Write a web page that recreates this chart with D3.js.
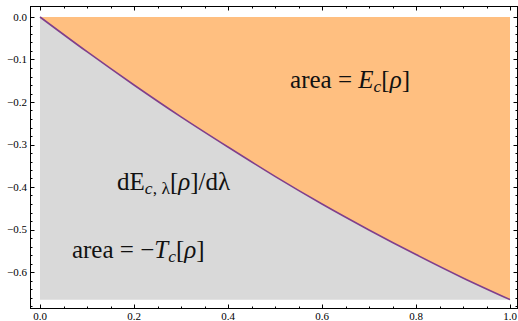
<!DOCTYPE html>
<html>
<head>
<meta charset="utf-8">
<script src="https://cdn.jsdelivr.net/npm/d3@7"></script>
<style>
  body { margin: 0; background: #fff; }
</style>
</head>
<body>
<div id="chart"></div>
<script>
// lambda values and dE_c,lambda/dlambda
const lambdas = [0, 0.1, 0.2, 0.3, 0.4, 0.5, 0.6, 0.7, 0.8, 0.9, 1.0];
const dEdl = [0, -0.0817, -0.160, -0.235, -0.306, -0.375, -0.440, -0.501, -0.559, -0.614, -0.665];
const xTicks = [0, 0.2, 0.4, 0.6, 0.8, 1.0];
const yTicks = [0, -0.1, -0.2, -0.3, -0.4, -0.5, -0.6];

const width = 518, height = 321;
const frame = {left: 30.5, right: 517.5, top: 6.5, bottom: 308.5};
const serif = '"Liberation Serif", "Times New Roman", serif';

const svg = d3.select("#chart").append("svg")
    .attr("width", width)
    .attr("height", height);

const x = d3.scaleLinear().domain([0, 1]).range([40, 510]);
const y = d3.scaleLinear().domain([0, -0.6]).range([17, 272]);
const yMin = d3.min(dEdl);
const pts = lambdas.map((l, i) => [l, dEdl[i]]);

// orange area between curve and zero
svg.append("path")
    .datum(pts)
    .attr("fill", "#ffbf80")
    .attr("d", d3.area().x(d => x(d[0])).y0(y(0)).y1(d => y(d[1])).curve(d3.curveMonotoneX));

// gray area below curve
svg.append("path")
    .datum(pts)
    .attr("fill", "#d9d9d9")
    .attr("d", d3.area().x(d => x(d[0])).y0(y(yMin)).y1(d => y(d[1])).curve(d3.curveMonotoneX));

// the curve itself
svg.append("path")
    .datum(pts)
    .attr("fill", "none")
    .attr("stroke", "#7f3f8c")
    .attr("stroke-width", 1.6)
    .attr("d", d3.line().x(d => x(d[0])).y(d => y(d[1])).curve(d3.curveMonotoneX));

// frame with inward ticks
const g = svg.append("g").attr("stroke", "#000").attr("stroke-width", 1);
g.append("rect")
    .attr("x", frame.left).attr("y", frame.top)
    .attr("width", frame.right - frame.left).attr("height", frame.bottom - frame.top)
    .attr("fill", "none");

const xMinor = d3.range(0, 1.0001, 0.05);
const yMinor = d3.range(0, -0.6801, -0.02);
const isMajorX = v => xTicks.some(t => Math.abs(t - v) < 1e-6);
const isMajorY = v => yTicks.some(t => Math.abs(t - v) < 1e-6);

xMinor.forEach(v => {
  const len = isMajorX(v) ? 4 : 2;
  const px = Math.round(x(v)) + 0.5;
  g.append("line").attr("x1", px).attr("x2", px).attr("y1", frame.bottom).attr("y2", frame.bottom - len);
  g.append("line").attr("x1", px).attr("x2", px).attr("y1", frame.top).attr("y2", frame.top + len);
});
yMinor.forEach(v => {
  const len = isMajorY(v) ? 4 : 2;
  const py = Math.round(y(v)) + 0.5;
  g.append("line").attr("y1", py).attr("y2", py).attr("x1", frame.left).attr("x2", frame.left + len);
  g.append("line").attr("y1", py).attr("y2", py).attr("x1", frame.right).attr("x2", frame.right - len);
});

// tick labels
svg.append("g").selectAll("text")
    .data(xTicks).join("text")
    .attr("x", d => x(d))
    .attr("y", 320)
    .attr("text-anchor", "middle")
    .style("font-family", serif)
    .style("font-size", "11px")
    .text(d => d3.format(".1f")(d));

svg.append("g").selectAll("text")
    .data(yTicks).join("text")
    .attr("x", 27)
    .attr("y", d => y(d) + 3.5)
    .attr("text-anchor", "end")
    .style("font-family", serif)
    .style("font-size", "11px")
    .text(d => d3.format(".1f")(d).replace("-", "\u2212"));

// annotations
const fs = 25;
function label(lx, ly, parts) {
  const t = svg.append("text")
      .attr("x", x(lx)).attr("y", y(ly))
      .style("font-family", serif)
      .style("font-size", fs + "px")
      .attr("fill", "#111");
  parts.forEach(p => {
    const s = t.append("tspan").text(p.t);
    if (p.i) s.style("font-style", "italic");
    if (p.sub) s.style("font-size", (fs * 0.7) + "px");
    if (p.dy) s.attr("dy", p.dy);
  });
}

label(0.532, -0.168, [
  {t: "area = "}, {t: "E", i: true}, {t: "c", i: true, sub: true, dy: 4}, {t: "[", dy: -4}, {t: "ρ", i: true}, {t: "]"}
]);
label(0.164, -0.408, [
  {t: "dE"}, {t: "c", i: true, sub: true, dy: 4}, {t: ", λ", sub: true}, {t: "[", dy: -4}, {t: "ρ", i: true}, {t: "]/dλ"}
]);
label(0.068, -0.568, [
  {t: "area = \u2212"}, {t: "T", i: true}, {t: "c", i: true, sub: true, dy: 4}, {t: "[", dy: -4}, {t: "ρ", i: true}, {t: "]"}
]);
</script>
</body>
</html>
